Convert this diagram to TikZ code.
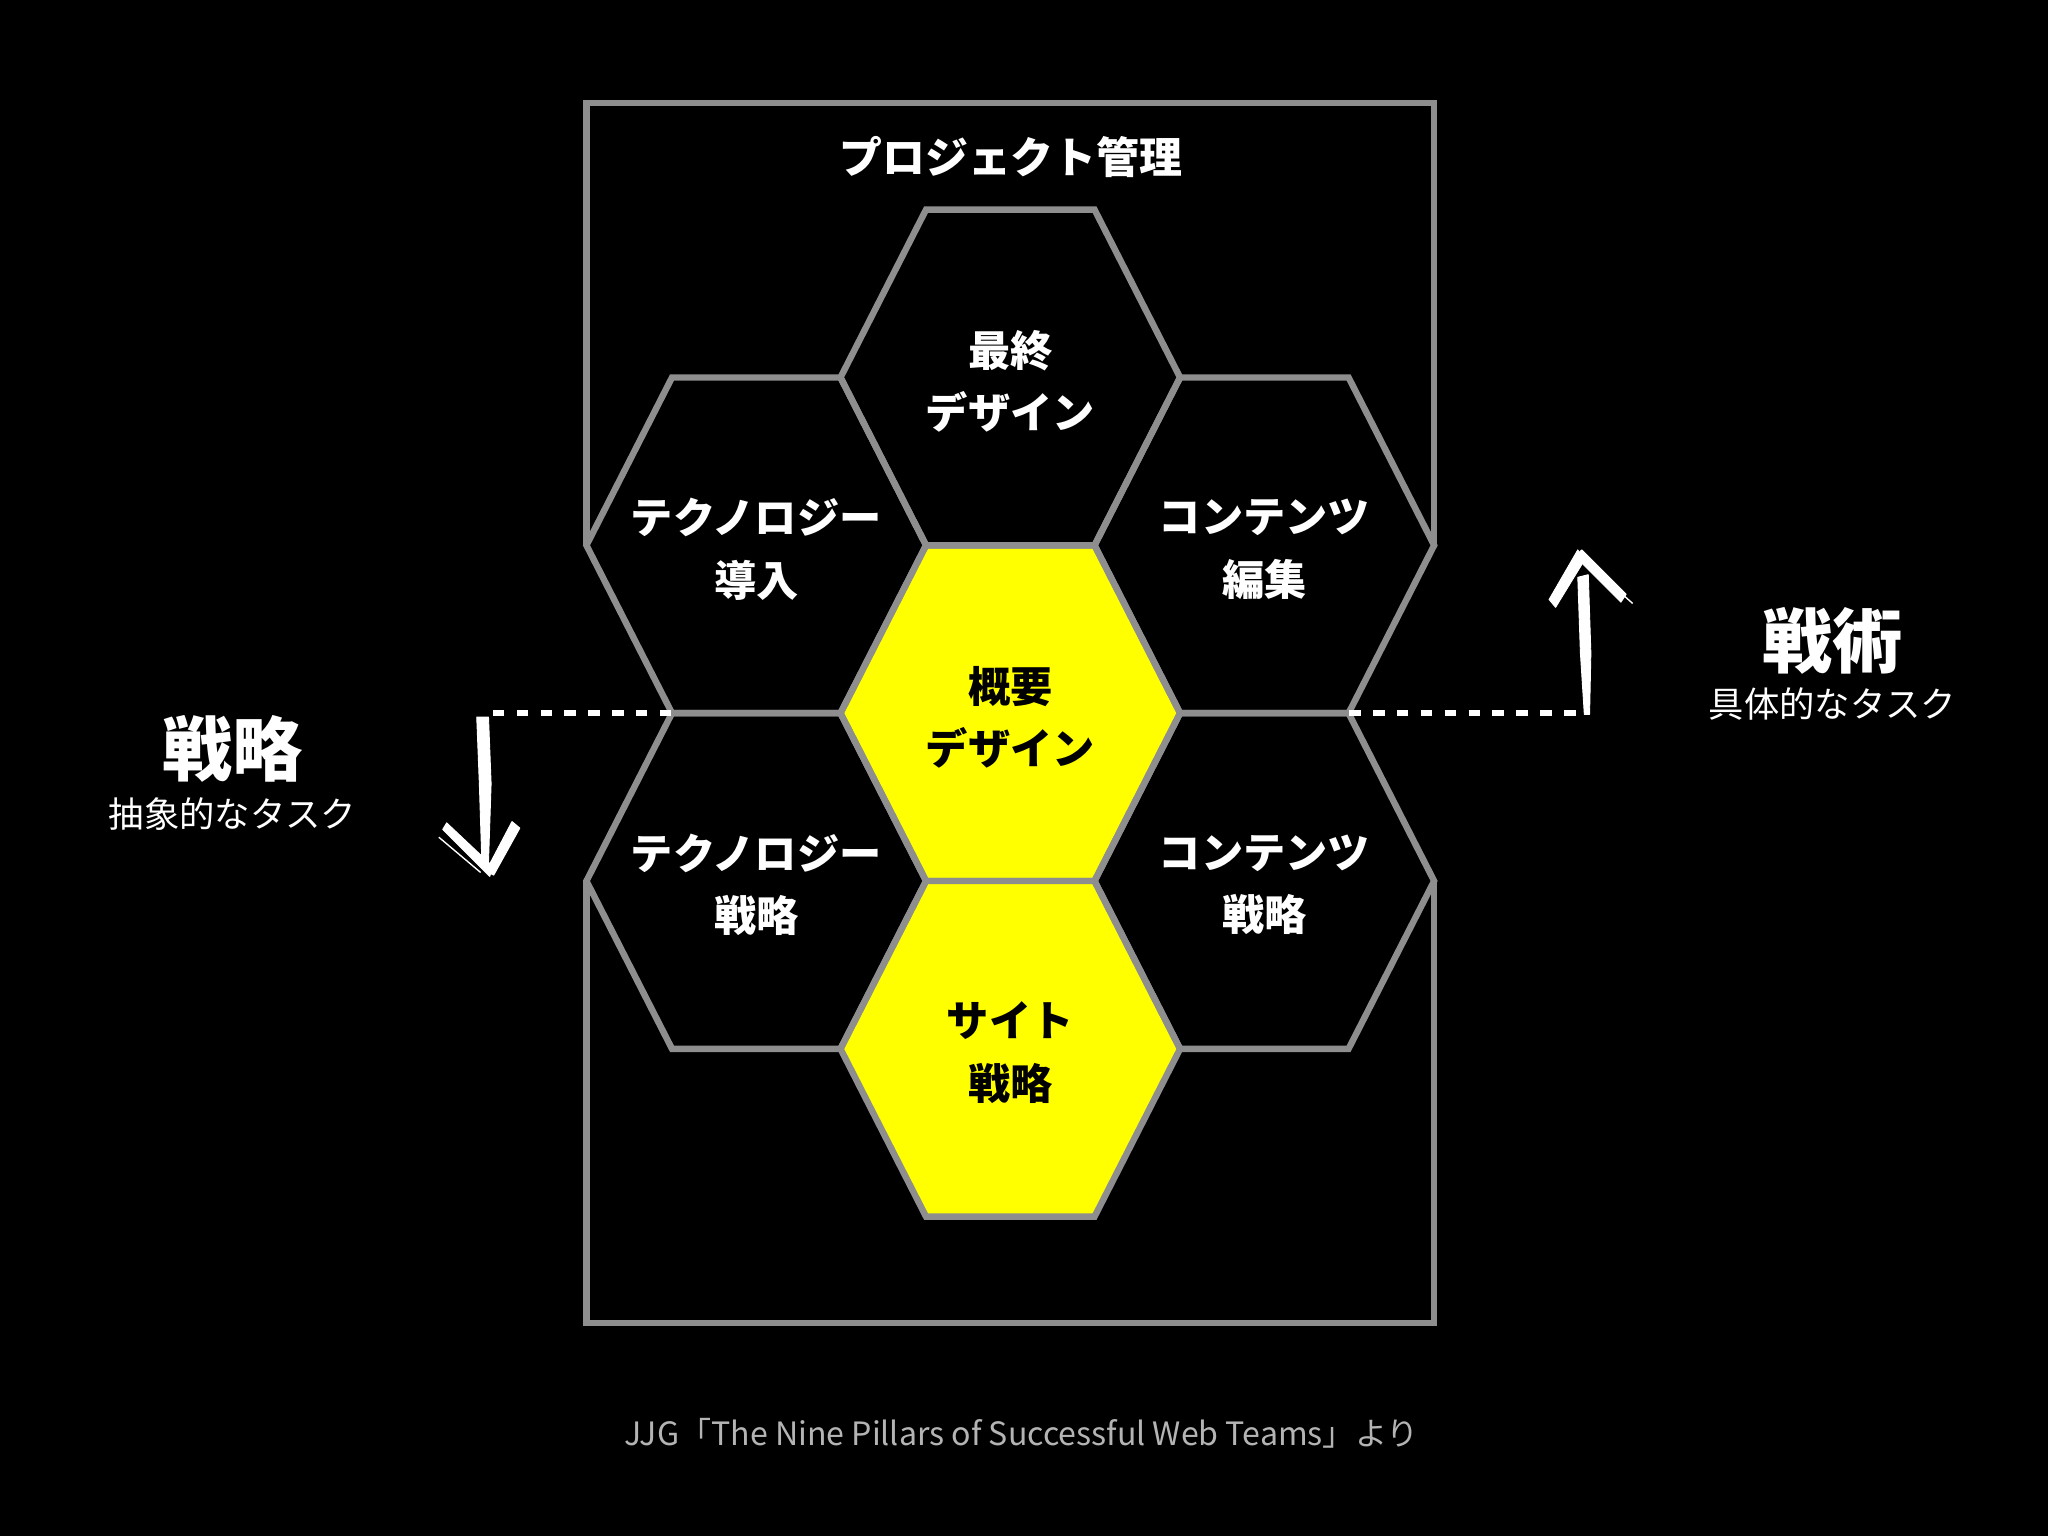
\documentclass[tikz,border=0pt]{standalone}
\usepackage{fontspec}
\setmainfont{Noto Sans CJK JP}
\usetikzlibrary{calc}

\definecolor{pillargray}{HTML}{8E8E8E}
\definecolor{pillaryellow}{HTML}{FFFF00}
\definecolor{sourcegray}{HTML}{B4B4B4}

\def\pillar[#1](#2){\draw[#1] ($(#2)+(-130,0)$) -- ($(#2)+(-64.5,-128.5)$) -- ($(#2)+(64.5,-128.5)$) -- ($(#2)+(130,0)$) -- ($(#2)+(64.5,128.5)$) -- ($(#2)+(-64.5,128.5)$) -- cycle;}

\tikzset{
	pillarline/.style={line width=2.8pt, draw=pillargray, line join=miter},
	pillartext/.style={align=center, text=white, yshift=-1.7pt, font=\fontsize{18.4}{27.2}\selectfont\bfseries},
	dashline/.style={line width=2.6pt, draw=white, dash pattern=on 5pt off 5.4pt},
	brush/.style={fill=white, draw=white, line width=0.4pt, line join=round},
}

\begin{document}
\begin{tikzpicture}[x=0.02cm, y=-0.02cm]
		%%%%% START %%%%%
		
		\fill[black] (0, 0) rectangle (1568, 1176);
		\useasboundingbox (0, 0) rectangle (1568, 1176);
		
		% centres of the nine pillars
		\coordinate (final) at (773.5, 289);
		\coordinate (techimpl) at (579, 417.5);
		\coordinate (contedit) at (968, 417.5);
		\coordinate (overview) at (773.5, 546);
		\coordinate (techstrat) at (579, 674.5);
		\coordinate (contstrat) at (968, 674.5);
		\coordinate (site) at (773.5, 803);
		
		% project management frame
		\draw[pillarline] (449, 417.5) -- (449, 79) -- (1098, 79) -- (1098, 417.5);
		\draw[pillarline] (449, 674.5) -- (449, 1013) -- (1098, 1013) -- (1098, 674.5);
		
		\pillar[pillarline, fill=pillaryellow](overview);
		\pillar[pillarline, fill=pillaryellow](site);
		\pillar[pillarline](final);
		\pillar[pillarline](techimpl);
		\pillar[pillarline](contedit);
		\pillar[pillarline](techstrat);
		\pillar[pillarline](contstrat);
		
		\node[pillartext, yshift=1.7pt, font=\fontsize{18.7}{22}\selectfont\bfseries] (pm) at (774, 120) {プロジェクト管理};
		\node[pillartext] (finallabel) at (final) {最終\\デザイン};
		\node[pillartext] (techimpllabel) at (techimpl) {テクノロジー\\導入};
		\node[pillartext] (conteditlabel) at (contedit) {コンテンツ\\編集};
		\node[pillartext, text=black] (overviewlabel) at (overview) {概要\\デザイン};
		\node[pillartext] (techstratlabel) at (techstrat) {テクノロジー\\戦略};
		\node[pillartext] (contstratlabel) at (contstrat) {コンテンツ\\戦略};
		\node[pillartext, text=black] (sitelabel) at (site) {サイト\\戦略};
		
		% strategy side
		\coordinate (hexL) at (514, 546);
		\coordinate (dashL) at (369, 546);
		\draw[dashline] (hexL) -- (dashL);
		\draw[brush] (365, 549) -- (374, 549) -- (376, 600) -- (374, 660) -- (369, 662) -- (367, 600) -- cycle;
		\draw[brush] (339, 635) -- (342, 630) -- (377, 663) -- (375, 671) -- cycle;
		\draw[brush] (392, 629) -- (398, 634) -- (378, 670) -- (372, 667) -- cycle;
		\draw[white, line width=0.6pt] (336, 641) -- (368, 668);
		
		\node[text=white, font=\fontsize{30.6}{34}\selectfont\bfseries] (strategy) at (178, 573) {戦略};
		\node[text=white, font=\fontsize{15.4}{18}\selectfont] (strategysub) at (178, 623) {抽象的なタスク};
		
		% tactics side
		\coordinate (hexR) at (1033, 546);
		\coordinate (dashR) at (1212, 546);
		\draw[dashline] (hexR) -- (dashR);
		\draw[brush] (1208, 442) -- (1216, 440) -- (1218, 500) -- (1217, 547) -- (1213, 547) -- (1210, 500) -- cycle;
		\draw[brush] (1186, 459) -- (1191, 465) -- (1213, 429) -- (1208, 421) -- cycle;
		\draw[brush] (1206, 426) -- (1211, 421) -- (1245, 455) -- (1241, 461) -- cycle;
		\draw[white, line width=0.6pt] (1215, 431) -- (1250, 462);
		
		\node[text=white, font=\fontsize{30.6}{34}\selectfont\bfseries] (tactics) at (1403, 491) {戦術};
		\node[text=white, font=\fontsize{15.4}{18}\selectfont] (tacticssub) at (1403, 539) {具体的なタスク};
		
		% source
		\node[text=sourcegray, font=\fontsize{14}{17}\selectfont] (source) at (782, 1097) {JJG「The Nine Pillars of Successful Web Teams」より};
		
		%%%%% END %%%%%
	\end{tikzpicture}
\end{document}
